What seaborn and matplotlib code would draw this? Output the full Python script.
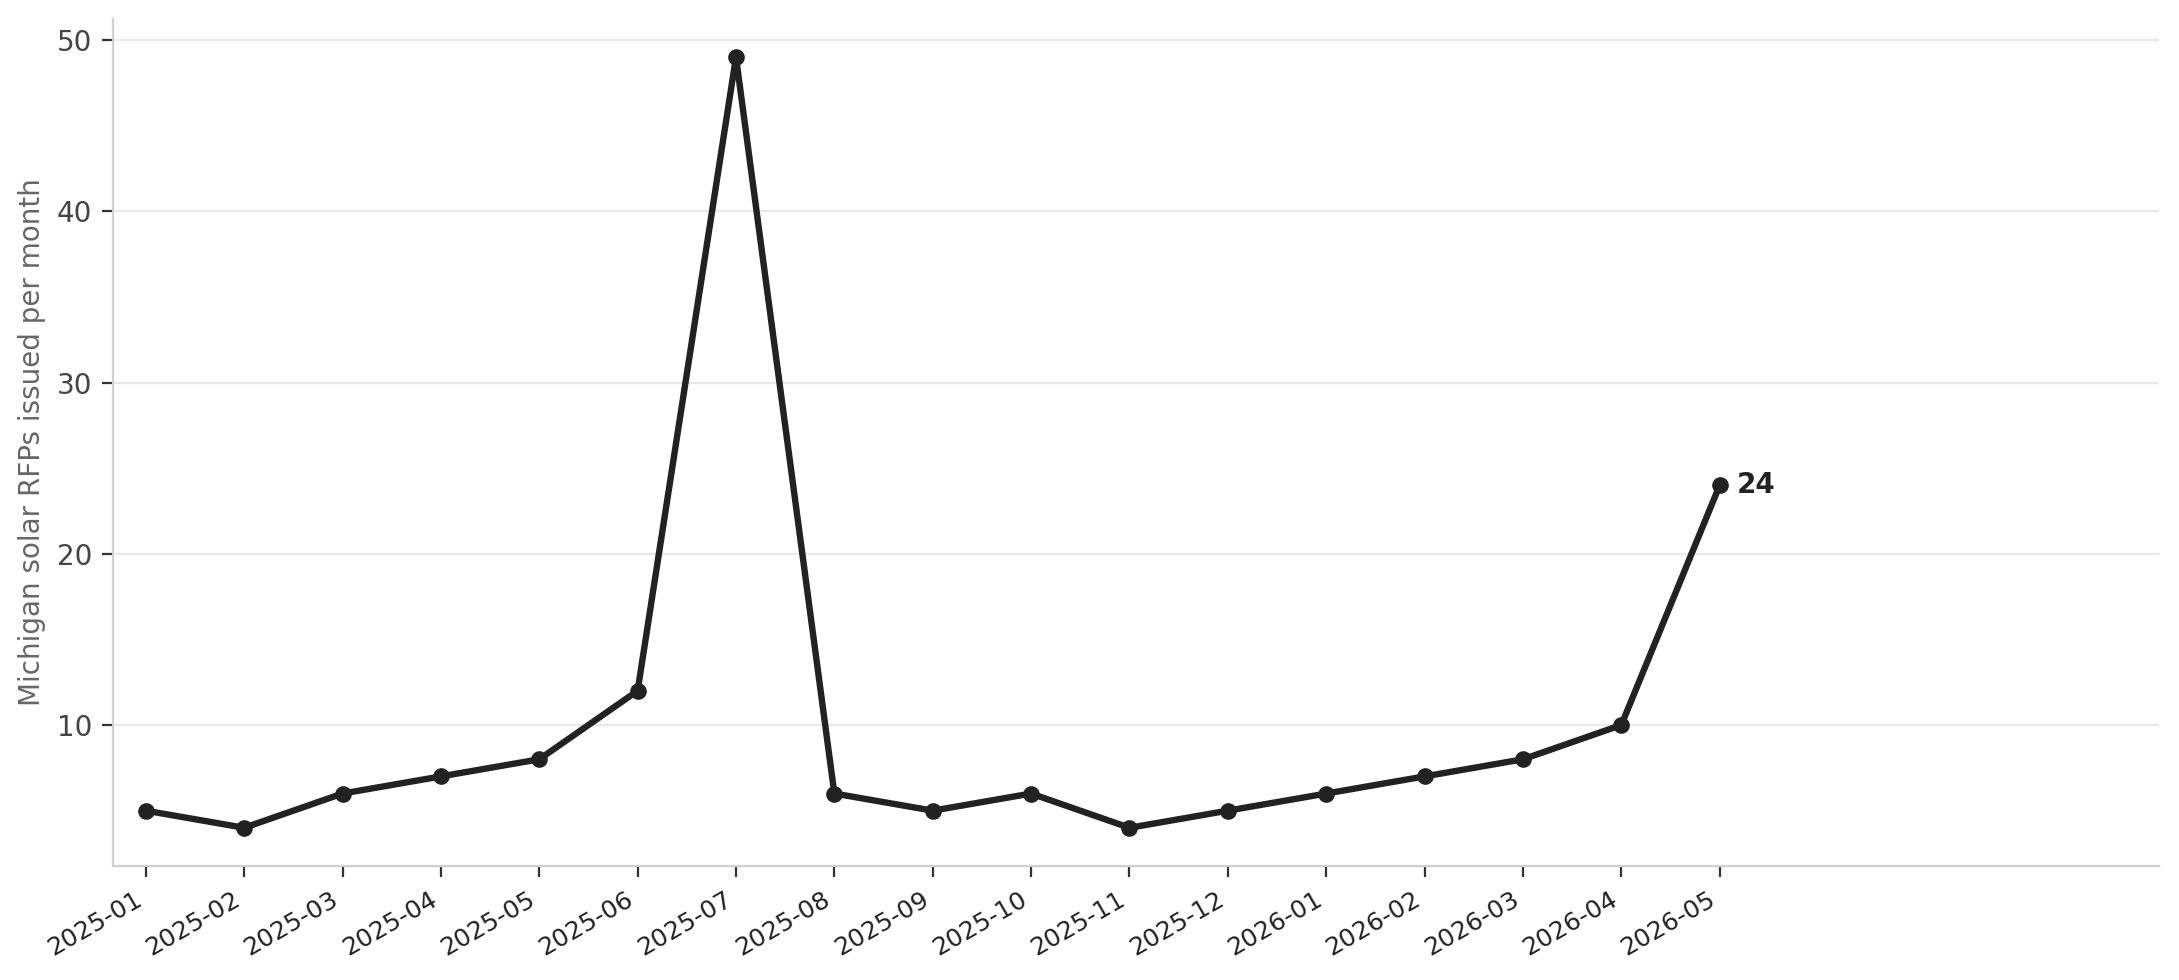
import matplotlib
matplotlib.use("Agg")
import matplotlib.pyplot as plt
import seaborn as sns
import pandas as pd

months = ["2025-01", "2025-02", "2025-03", "2025-04", "2025-05", "2025-06",
          "2025-07", "2025-08", "2025-09", "2025-10", "2025-11", "2025-12",
          "2026-01", "2026-02", "2026-03", "2026-04", "2026-05"]
rfps = [5, 4, 6, 7, 8, 12, 49, 6, 5, 6, 4, 5, 6, 7, 8, 10, 24]

sns.set_theme(style="whitegrid")
plt.rcParams['font.family'] = ['DejaVu Sans']

df = pd.DataFrame({"month": months, "rfps": rfps, "pos": range(len(months))})

fig, ax = plt.subplots(figsize=(10.895, 4.9), dpi=200)
sns.lineplot(data=df, x="pos", y="rfps", ax=ax, color="#222222", linewidth=2.3,
             marker="o", markersize=6, markeredgewidth=0)

ax.set_xticks(df["pos"])
ax.set_xticklabels(months, rotation=30, ha="right", fontsize=9, color="#222222")
ax.set_xlim(-0.33, 20.47)
ax.set_xlabel("")
ax.set_ylabel("Michigan solar RFPs issued per month", fontsize=10, color="#666666")
ax.tick_params(axis="y", labelsize=10, labelcolor="#444444", left=True, length=4, color="#333333", width=0.8)
ax.tick_params(axis="x", bottom=True, length=4, color="#333333", width=0.8)
ax.set_yticks([10, 20, 30, 40, 50])

ax.grid(axis="x", visible=False)
ax.grid(axis="y", color="#e8e8e8", linewidth=0.8)
for s in ["top", "right"]:
    ax.spines[s].set_visible(False)
for s in ["left", "bottom"]:
    ax.spines[s].set_color("#d0d0d0")
    ax.spines[s].set_linewidth(0.8)

last = df.iloc[-1]
ax.annotate(f"{int(last['rfps'])}", (last["pos"], last["rfps"]), xytext=(6, 0),
            textcoords="offset points", va="center", ha="left",
            fontsize=10, fontweight="bold", color="#222222")

fig.subplots_adjust(left=0.052, right=0.991, top=0.981, bottom=0.116)
fig.savefig("out.png", dpi=200)
